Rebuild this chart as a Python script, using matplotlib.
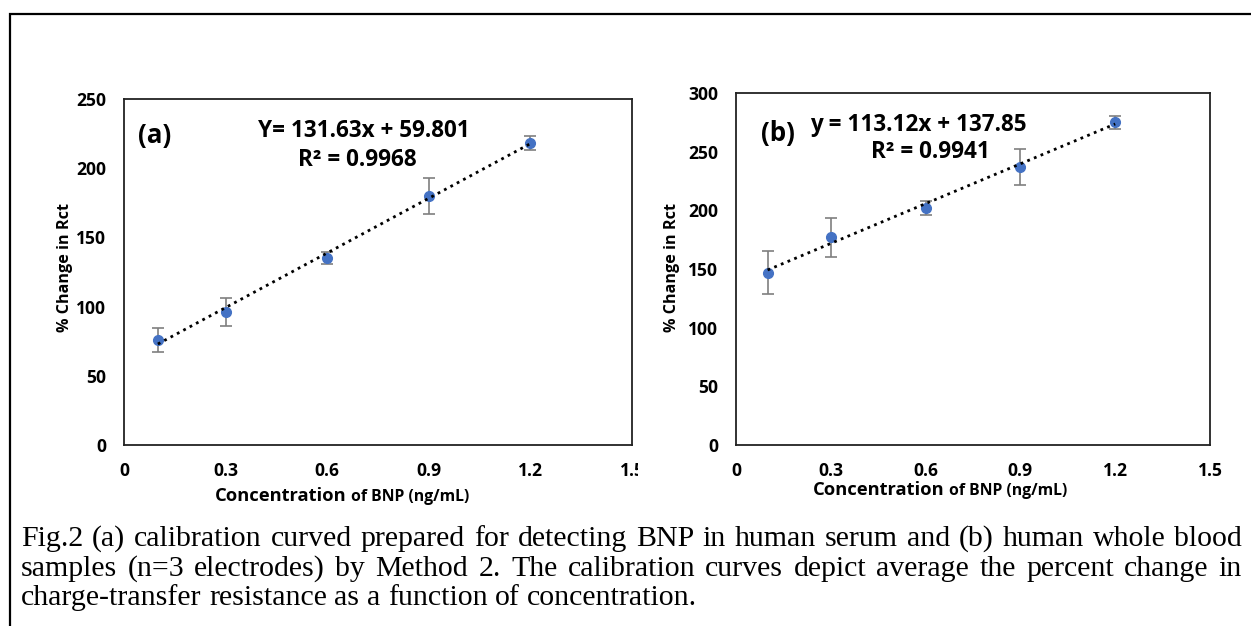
import matplotlib
matplotlib.use("Agg")
import matplotlib.pyplot as plt
from matplotlib.patches import Rectangle

# data
conc = [0.1, 0.3, 0.6, 0.9, 1.2]
serum_rct = [76, 96, 135, 180, 218]
serum_err = [8.5, 10, 4.5, 13, 5]
blood_rct = [147, 177, 202, 237, 275]
blood_err = [18, 16.5, 6, 15.5, 5.5]
serum_fit = (131.63, 59.801)
blood_fit = (113.12, 137.85)
xticks = [0, 0.3, 0.6, 0.9, 1.2, 1.5]
serum_yticks = [0, 50, 100, 150, 200, 250]
blood_yticks = [0, 50, 100, 150, 200, 250, 300]

caption = [
    "Fig.2 (a) calibration curved prepared for detecting BNP in human serum and (b) human whole blood",
    "samples (n=3 electrodes) by Method 2. The calibration curves depict average the percent change in",
    "charge-transfer resistance as a function of concentration.",
]

W, H = 1251, 626
SANS = "Open Sans"
SERIF = "Liberation Serif"

fig = plt.figure(figsize=(W / 100, H / 100), dpi=100)
renderer = fig.canvas.get_renderer()


def fx(px):
    return px / W


def fy(py):
    return 1 - py / H


def width(s, size, family=SANS, weight="bold"):
    t = fig.text(0, 0, s, fontsize=size, family=family, fontweight=weight)
    w = t.get_window_extent(renderer).width
    t.remove()
    return w


def fit(s, target, family=SANS, weight="bold"):
    return 10 * target / width(s, 10, family, weight)


TICK = fit("250", 30)
EQ = fit("Y= 131.63x + 59.801", 212)
YLAB = fit("% Change in Rct", 128)
CONC = fit("Concentration", 132)
OFB = fit("of BNP (ng/mL)", 118)
TAG = fit("(a)", 33)


def panel(box, x, y, err, fit_, yticks, ymax, tag, tag_xy, eq, eq_xy, r2, r2_xy):
    left, top, right, bottom = box
    ax = fig.add_axes([fx(left), fy(bottom), (right - left) / W, (bottom - top) / H])
    ax.errorbar(x, y, yerr=err, fmt="o", color="#4472C4", markersize=7,
                ecolor="#7f7f7f", elinewidth=1.2, capsize=4, capthick=1.2, zorder=2)
    slope, icpt = fit_
    xs = [x[0], x[-1]]
    ax.plot(xs, [slope * v + icpt for v in xs], color="black", lw=2,
            linestyle=(0, (1, 1.6)), zorder=3)
    ax.set_xlim(0, 1.5)
    ax.set_ylim(0, ymax)
    ax.set_xticks(xticks)
    ax.set_xticklabels(["0" if v == 0 else f"{v:.1f}" for v in xticks])
    ax.set_yticks(yticks)
    ax.tick_params(length=0, labelsize=TICK)
    ax.tick_params(axis="x", pad=12)
    ax.tick_params(axis="y", pad=13)
    for lab in ax.get_xticklabels() + ax.get_yticklabels():
        lab.set_fontfamily(SANS)
        lab.set_fontweight("bold")
    for s in ax.spines.values():
        s.set_linewidth(1.3)
        s.set_color("#222222")
    fig.text(fx(tag_xy[0]), fy(tag_xy[1]), tag, fontsize=TAG, fontweight="bold",
             family=SANS, ha="center", va="center")
    fig.text(fx(eq_xy[0]), fy(eq_xy[1]), eq, fontsize=EQ, fontweight="bold",
             family=SANS, ha="center", va="center")
    fig.text(fx(r2_xy[0]), fy(r2_xy[1]), r2, fontsize=EQ, fontweight="bold",
             family=SANS, ha="center", va="center")
    return ax


panel((124, 99, 632, 445), conc, serum_rct, serum_err, serum_fit, serum_yticks, 250,
      "(a)", (155, 136), "Y= 131.63x + 59.801", (364, 131), "R² = 0.9968", (357, 160))
panel((736, 93, 1210, 445), conc, blood_rct, blood_err, blood_fit, blood_yticks, 300,
      "(b)", (778, 133), "y = 113.12x + 137.85", (918, 125), "R² = 0.9941", (930, 152))

# the 1.5 label of panel (a) is cut off in the source
fig.add_artist(Rectangle((fx(638), fy(490)), fx(25), 40 / H, transform=fig.transFigure,
                         facecolor="white", edgecolor="none", zorder=10))

# axis labels
for cx in (65, 672):
    fig.text(fx(cx), fy(268), "% Change in Rct", rotation=90, fontsize=YLAB,
             fontweight="bold", family=SANS, ha="center", va="center")
for x0, base in [(215, 501), (813, 495)]:
    fig.text(fx(x0), fy(base), "Concentration", fontsize=CONC, fontweight="bold",
             family=SANS, ha="left", va="baseline")
    x1 = x0 + width("Concentration", CONC) + 4
    fig.text(fx(x1), fy(base), "of BNP (ng/mL)", fontsize=OFB, fontweight="bold",
             family=SANS, ha="left", va="baseline")

# outer frame of the figure box
fig.add_artist(Rectangle((fx(10), -0.05), 1.1, fy(14) + 0.05, transform=fig.transFigure,
                         facecolor="none", edgecolor="black", lw=1.6, zorder=11))

# justified caption
x_left, x_right = 21, 1242
size = fit(caption[0], (x_right - x_left) * 0.985, SERIF, "normal")
baselines = [546, 576, 605]
for i, (line, base) in enumerate(zip(caption, baselines)):
    words = line.split()
    widths = [width(w, size, SERIF, "normal") for w in words]
    if i < len(caption) - 1:
        gap = (x_right - x_left - sum(widths)) / (len(words) - 1)
    else:
        gap = width("a b", size, SERIF, "normal") - width("ab", size, SERIF, "normal")
    xpos = x_left
    for w, wd in zip(words, widths):
        fig.text(fx(xpos), fy(base), w, fontsize=size, family=SERIF, ha="left", va="baseline")
        xpos += wd + gap

fig.savefig("out.png", dpi=100)
